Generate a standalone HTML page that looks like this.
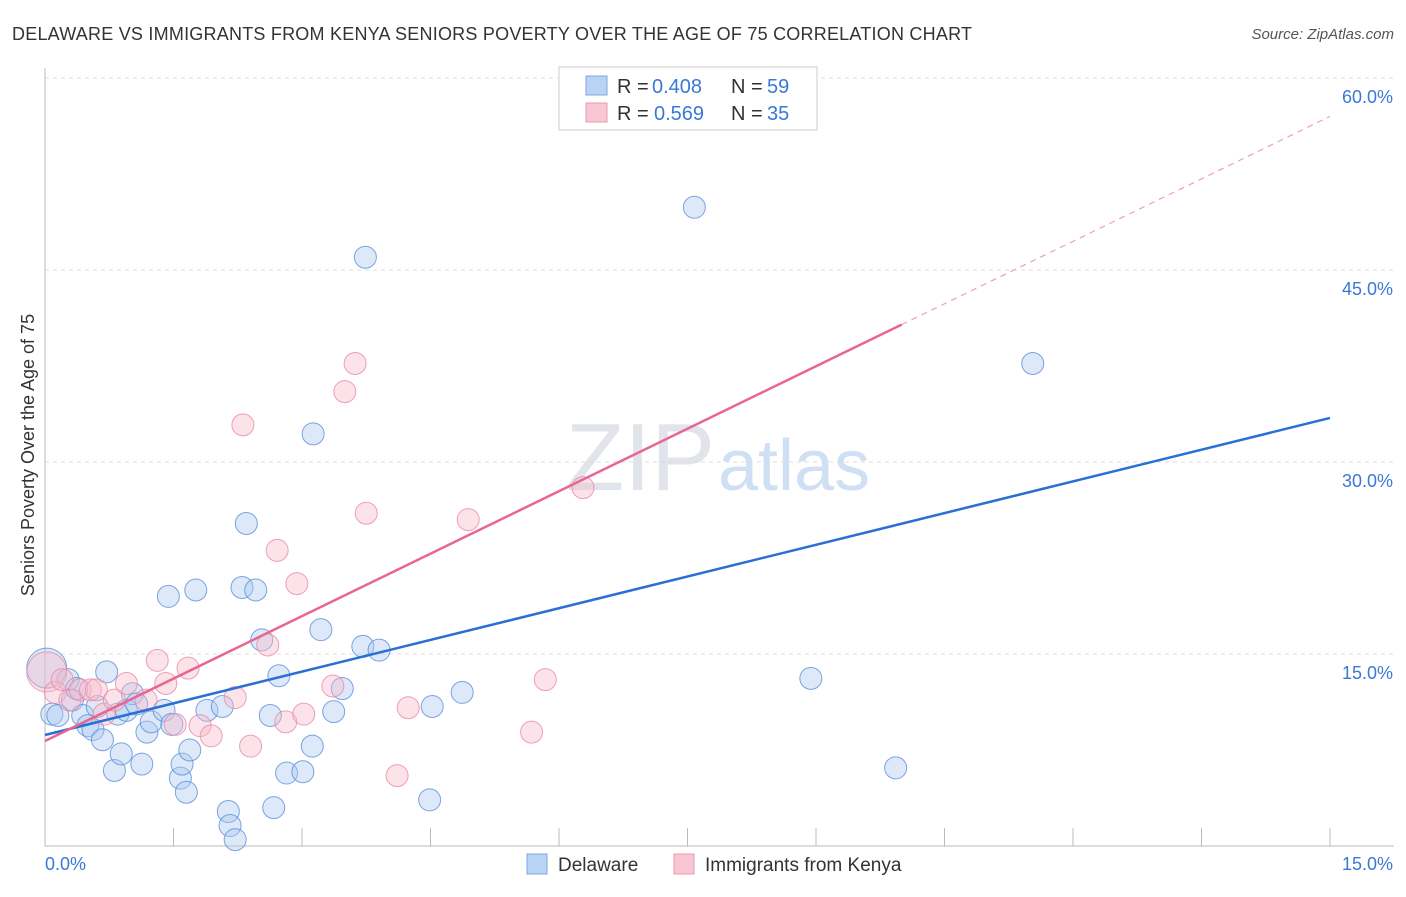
<!DOCTYPE html>
<html><head><meta charset="utf-8"><style>
body{margin:0;background:#fff;font-family:"Liberation Sans",sans-serif}
svg text{font-family:"Liberation Sans",sans-serif}
</style></head><body>
<svg id="chart" width="1406" height="892">
<text x="12" y="40" font-size="18" fill="#333" textLength="960" lengthAdjust="spacing">DELAWARE VS IMMIGRANTS FROM KENYA SENIORS POVERTY OVER THE AGE OF 75 CORRELATION CHART</text>
<text x="1394" y="39" font-size="15" fill="#555" font-style="italic" text-anchor="end">Source: ZipAtlas.com</text>
<text x="715" y="490" font-size="96" fill="#e1e4ea" text-anchor="end" font-family="Liberation Serif">ZIP</text>
<text x="718" y="490" font-size="72" fill="#cfe0f5">atlas</text>
<g id="grid"></g><g id="axes"></g><g id="pts"></g><g id="lines"></g>
<text transform="translate(34,455) rotate(-90)" font-size="18" fill="#333" text-anchor="middle">Seniors Poverty Over the Age of 75</text>
<g>
<rect x="559" y="67" width="258" height="63" fill="#fff" stroke="#ccc"/>
<rect x="586" y="76" width="21" height="19" fill="#b9d3f5" stroke="#7ba7e3"/>
<text x="617" y="93" font-size="20" fill="#333">R =</text>
<text x="652" y="93" font-size="20" fill="#3a78d8">0.408</text>
<text x="731" y="93" font-size="20" fill="#333">N =</text>
<text x="767" y="93" font-size="20" fill="#3a78d8">59</text>
<rect x="586" y="103" width="21" height="19" fill="#f9c6d4" stroke="#ea9ab2"/>
<text x="617" y="120" font-size="20" fill="#333">R =</text>
<text x="654" y="120" font-size="20" fill="#3a78d8">0.569</text>
<text x="731" y="120" font-size="20" fill="#333">N =</text>
<text x="767" y="120" font-size="20" fill="#3a78d8">35</text>
</g>
<g>
<rect x="527" y="854" width="20" height="20" fill="#b9d3f5" stroke="#7ba7e3"/>
<text x="558" y="871" font-size="19" fill="#333">Delaware</text>
<rect x="674" y="854" width="20" height="20" fill="#f9c6d4" stroke="#ea9ab2"/>
<text x="705" y="871" font-size="19" fill="#333">Immigrants from Kenya</text>
</g>
</svg>
<script>
const blueX=[0.02,0.08,0.15,0.27,0.32,0.37,0.44,0.50,0.56,0.61,0.67,0.72,0.81,0.85,0.89,0.95,1.02,1.07,1.13,1.19,1.24,1.39,1.44,1.48,1.58,1.60,1.65,1.69,1.76,1.89,2.07,2.14,2.16,2.22,2.30,2.35,2.46,2.53,2.63,2.67,2.73,2.82,3.01,3.12,3.13,3.22,3.37,3.47,3.71,3.74,3.90,4.49,4.52,4.87,7.58,8.94,9.93,11.53];
const blueY=[13.9,10.3,10.2,13.0,11.4,12.3,10.2,9.4,9.1,10.9,8.3,13.6,5.9,10.3,7.2,10.6,11.9,11.1,6.4,8.9,9.7,10.6,19.5,9.5,5.3,6.4,4.2,7.5,20.0,10.6,10.9,2.7,1.6,0.5,20.2,25.2,20.0,16.1,10.2,3.0,13.3,5.7,5.8,7.8,32.2,16.9,10.5,12.3,15.6,46.0,15.3,3.6,10.9,12.0,49.9,13.1,6.1,37.7];
const pinkX=[0.02,0.12,0.20,0.29,0.41,0.53,0.60,0.69,0.81,0.95,1.18,1.31,1.41,1.52,1.67,1.81,1.94,2.22,2.31,2.40,2.60,2.71,2.81,2.94,3.02,3.36,3.50,3.62,3.75,4.11,4.24,4.94,5.68,5.84,6.28,8.31];
const pinkY=[13.6,12.0,13.0,11.4,12.2,12.2,12.2,10.3,11.4,12.7,11.4,14.5,12.7,9.5,13.9,9.4,8.6,11.6,32.9,7.8,15.7,23.1,9.7,20.5,10.3,12.5,35.5,37.7,26.0,5.5,10.8,25.5,8.9,13.0,28.0,59.8];
const blueTrend=[8.67,33.44];
const pinkTrend=[8.2,57.0];
const pinkSolidEnd=10.0;
const yTicks=[15,30,45,60];
const xTickVals=[0,1.5,3,4.5,6,7.5,9,10.5,12,13.5,15];
const NS='http://www.w3.org/2000/svg';
const sx=v=>45+v*(1285/15), sy=v=>846-v*12.8;
function mk(tag,attrs,parent){const e=document.createElementNS(NS,tag);for(const k in attrs)e.setAttribute(k,attrs[k]);document.getElementById(parent).appendChild(e);return e;}
yTicks.forEach(t=>{
 const g=mk('line',{x1:45,x2:1394,y1:sy(t),y2:sy(t),stroke:'#ddd','stroke-dasharray':'4,4'},'grid');
 
 
 const l=mk('text',{x:1393,y:sy(t)+25,'font-size':18,fill:'#3a78d8','text-anchor':'end'},'axes');
 l.textContent=t.toFixed(1)+'%';
 
 
});
mk('line',{x1:45,x2:45,y1:68,y2:846,stroke:'#bbb'},'axes');
mk('line',{x1:45,x2:1394,y1:846,y2:846,stroke:'#bbb'},'axes');
xTickVals.forEach(t=>{
 const tk=mk('line',{x1:sx(t),x2:sx(t),y1:828,y2:846,stroke:'#bbb'},'axes');
 
 
});
[[0,'start',45],[15,'end',1393]].forEach(([v,a,x])=>{
 const l=mk('text',{x:x,y:870,'font-size':18,fill:'#3a78d8','text-anchor':a},'axes');
 l.textContent=v.toFixed(1)+'%';
 
 
});
function pts(X,Y,fill,stroke,name){
 X.forEach((x,i)=>{
  const c=mk('circle',{cx:sx(x),cy:sy(Y[i]),r:i===0?20:11,fill:fill,'fill-opacity':0.4,stroke:stroke,'stroke-opacity':0.8,'stroke-width':1},'pts');
  
  
 });
}
pts(blueX,blueY,'#a9c8f0','#5b8fd9','delaware-point');
pts(pinkX,pinkY,'#f7b9cb','#e88aa7','kenya-point');
const lerp=(tr,x)=>tr[0]+(tr[1]-tr[0])*x/15;
let bl=mk('line',{x1:sx(0),y1:sy(blueTrend[0]),x2:sx(15),y2:sy(blueTrend[1]),stroke:'#2a6fd6','stroke-width':2.5},'lines');


let pl=mk('line',{x1:sx(0),y1:sy(pinkTrend[0]),x2:sx(pinkSolidEnd),y2:sy(lerp(pinkTrend,pinkSolidEnd)),stroke:'#e8668f','stroke-width':2.5},'lines');


let pd=mk('line',{x1:sx(pinkSolidEnd),y1:sy(lerp(pinkTrend,pinkSolidEnd)),x2:sx(15),y2:sy(pinkTrend[1]),stroke:'#eca0b8','stroke-width':1.2,'stroke-dasharray':'6,5'},'lines');


</script>
</body></html>
